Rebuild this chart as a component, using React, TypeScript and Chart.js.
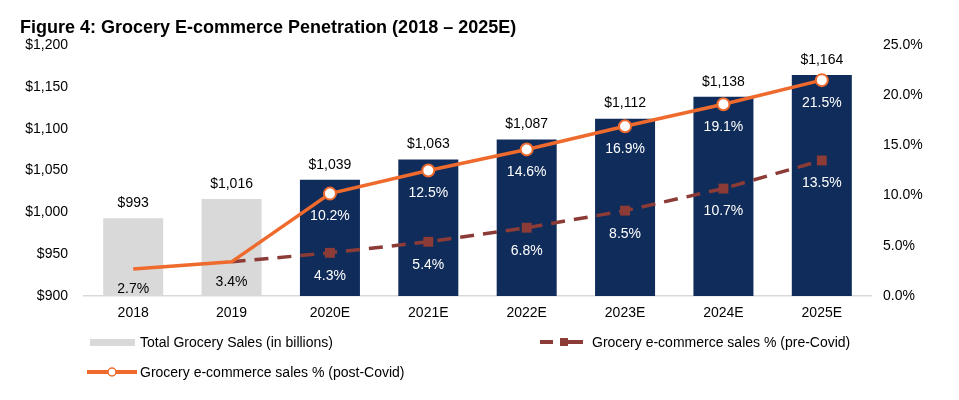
import React, { useEffect, useRef } from "react";
import { Chart, registerables } from "chart.js";

Chart.register(...registerables);

const categories = ["2018", "2019", "2020E", "2021E", "2022E", "2023E", "2024E", "2025E"];
const totalSales = [993, 1016, 1039, 1063, 1087, 1112, 1138, 1164];
const postCovid = [2.7, 3.4, 10.2, 12.5, 14.6, 16.9, 19.1, 21.5];
const preCovid = [null, 3.4, 4.3, 5.4, 6.8, 8.5, 10.7, 13.5];
const leftTicks = [900, 950, 1000, 1050, 1100, 1150, 1200];
const rightTicks = [0, 5, 10, 15, 20, 25];

const FONT = '"Liberation Sans", Arial, Helvetica, sans-serif';
const NAVY = "#0F2C5A";
const GREY = "#D9D9D9";
const ORANGE = "#EE6A2D";
const BROWN = "#8C3B37";

const barColors = categories.map((c) => (c.endsWith("E") ? NAVY : GREY));

const labelPlugin = {
  id: "valueLabels",
  afterDatasetsDraw(chart: any) {
    const ctx = chart.ctx;
    ctx.save();
    ctx.textAlign = "center";
    ctx.textBaseline = "middle";
    ctx.font = `14px ${FONT}`;
    const barMeta = chart.getDatasetMeta(2);
    barMeta.data.forEach((el: any, i: number) => {
      ctx.fillStyle = "#000";
      ctx.fillText("$" + totalSales[i].toLocaleString("en-US"), el.x, el.y - 15);
    });
    const postMeta = chart.getDatasetMeta(0);
    postMeta.data.forEach((el: any, i: number) => {
      ctx.fillStyle = categories[i].endsWith("E") ? "#fff" : "#000";
      ctx.fillText(postCovid[i].toFixed(1) + "%", el.x, el.y + (i < 2 ? 20 : 23));
    });
    const preMeta = chart.getDatasetMeta(1);
    preMeta.data.forEach((el: any, i: number) => {
      const v = preCovid[i];
      if (v === null || i < 2) return;
      ctx.fillStyle = "#fff";
      ctx.fillText(v.toFixed(1) + "%", el.x, el.y + 23);
    });
    ctx.restore();
  },
};

export default function App() {
  const ref = useRef<HTMLCanvasElement>(null);
  useEffect(() => {
    if (!ref.current) return;
    const chart = new Chart(ref.current, {
      type: "bar",
      data: {
        labels: categories,
        datasets: [
          {
            type: "line",
            label: "Grocery e-commerce sales % (post-Covid)",
            data: postCovid,
            yAxisID: "y1",
            borderColor: ORANGE,
            borderWidth: 3.5,
            pointRadius: categories.map((c) => (c.endsWith("E") ? 6 : 0)),
            pointBackgroundColor: "#fff",
            pointBorderColor: ORANGE,
            pointBorderWidth: 2,
            tension: 0,
            order: 0,
          } as any,
          {
            type: "line",
            label: "Grocery e-commerce sales % (pre-Covid)",
            data: preCovid,
            yAxisID: "y1",
            borderColor: BROWN,
            borderWidth: 3.5,
            borderDash: [14, 9],
            pointStyle: "rect",
            pointRadius: categories.map((c) => (c.endsWith("E") ? 7 : 0)),
            pointBackgroundColor: BROWN,
            pointBorderColor: BROWN,
            pointBorderWidth: 0,
            tension: 0,
            order: 1,
          } as any,
          {
            type: "bar",
            label: "Total Grocery Sales (in billions)",
            data: totalSales,
            yAxisID: "y",
            backgroundColor: barColors,
            categoryPercentage: 1,
            barPercentage: 0.61,
            order: 2,
          },
        ],
      },
      options: {
        animation: false,
        responsive: false,
        layout: { padding: { top: 37, left: 0, right: 0, bottom: 0 } },
        plugins: { legend: { display: false }, tooltip: { enabled: false }, title: { display: false } },
        scales: {
          x: {
            grid: { display: false, drawTicks: false },
            border: { display: true, color: GREY, width: 1.5 },
            ticks: { color: "#000", font: { family: FONT, size: 14 }, padding: 9 },
            afterFit: (s: any) => {
              s.height = 96;
            },
          },
          y: {
            position: "left",
            min: 900,
            max: 1200,
            grid: { display: false, drawTicks: false },
            border: { display: false },
            afterBuildTicks: (s: any) => {
              s.ticks = leftTicks.map((v) => ({ value: v }));
            },
            ticks: {
              color: "#000",
              font: { family: FONT, size: 14 },
              padding: 16,
              callback: (v: any) => "$" + Number(v).toLocaleString("en-US"),
            },
            afterFit: (s: any) => {
              s.width = 76;
            },
          },
          y1: {
            position: "right",
            min: 0,
            max: 25,
            grid: { display: false, drawTicks: false },
            border: { display: false },
            afterBuildTicks: (s: any) => {
              s.ticks = rightTicks.map((v) => ({ value: v }));
            },
            ticks: {
              color: "#000",
              font: { family: FONT, size: 14 },
              padding: 12,
              callback: (v: any) => Number(v).toFixed(1) + "%",
            },
            afterFit: (s: any) => {
              s.width = 80;
            },
          },
        },
      },
      plugins: [labelPlugin],
    });
    return () => chart.destroy();
  }, []);

  const legendText: React.CSSProperties = {
    position: "absolute",
    fontFamily: FONT,
    fontSize: 14,
    color: "#000",
    lineHeight: "16px",
    whiteSpace: "nowrap",
  };

  return (
    <div style={{ position: "relative", width: 943, height: 384 }}>
      <canvas ref={ref} width={943} height={384} style={{ display: "block" }} />
      <div
        style={{
          position: "absolute",
          left: 12,
          top: 9,
          fontFamily: FONT,
          fontWeight: "bold",
          fontSize: 18,
          color: "#000",
          whiteSpace: "nowrap",
          background: "#fff",
        }}
      >
        Figure 4: Grocery E-commerce Penetration (2018 – 2025E)
      </div>
      {/* legend row 1 */}
      <div style={{ position: "absolute", left: 82, top: 331, width: 45, height: 7, background: GREY }} />
      <div style={{ ...legendText, left: 132, top: 326 }}>Total Grocery Sales (in billions)</div>
      <svg style={{ position: "absolute", left: 532, top: 327 }} width={44} height={14}>
        <line x1={0} y1={7} x2={13} y2={7} stroke={BROWN} strokeWidth={4} />
        <line x1={20} y1={7} x2={43} y2={7} stroke={BROWN} strokeWidth={4} />
        <rect x={20} y={3} width={8} height={8} fill={BROWN} />
      </svg>
      <div style={{ ...legendText, left: 584, top: 326 }}>Grocery e-commerce sales % (pre-Covid)</div>
      {/* legend row 2 */}
      <svg style={{ position: "absolute", left: 79, top: 357 }} width={50} height={14}>
        <line x1={0} y1={7} x2={50} y2={7} stroke={ORANGE} strokeWidth={4} />
        <circle cx={25} cy={7} r={4} fill="#fff" stroke={ORANGE} strokeWidth={1.5} />
      </svg>
      <div style={{ ...legendText, left: 132, top: 356 }}>Grocery e-commerce sales % (post-Covid)</div>
    </div>
  );
}
